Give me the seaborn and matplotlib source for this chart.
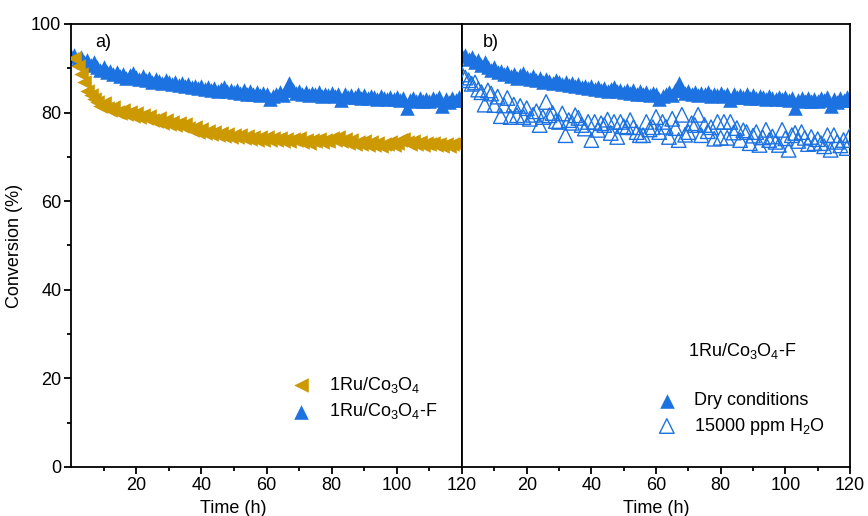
import numpy as np
import pandas as pd
import matplotlib
matplotlib.use('Agg')
import matplotlib.pyplot as plt
from matplotlib.ticker import MultipleLocator, FixedLocator
import seaborn as sns

# Dados (conversão em %, tempo em h)
t_dry = list(range(0, 121))
conv_dry = [92.8, 93.0, 92.1, 92.6, 91.5, 91.9, 90.8, 91.4, 90.2, 89.6,
            90.3, 89.1, 89.4, 88.6, 89.2, 88.3, 88.7, 87.9, 88.4, 88.9,
            88.1, 87.6, 88.3, 87.4, 87.9, 86.8, 87.5, 87.1, 86.6, 87.3,
            86.9, 86.4, 87.0, 86.2, 86.7, 85.9, 86.5, 85.7, 86.1, 85.5,
            86.0, 85.4, 85.8, 85.1, 85.6, 84.9, 85.3, 85.7, 84.8, 85.2,
            84.7, 85.1, 84.5, 85.0, 84.3, 84.8, 84.2, 84.6, 83.9, 84.5,
            84.1, 83.0, 83.8, 84.3, 84.7, 84.0, 85.2, 86.6, 85.0, 84.4,
            84.8, 84.2, 84.6, 83.9, 84.5, 84.1, 84.7, 83.8, 84.3, 84.0,
            84.4, 83.7, 84.2, 82.8, 84.3, 83.5, 84.0, 83.6, 84.1, 83.4,
            83.9, 83.3, 83.8, 83.5, 83.1, 83.7, 83.2, 83.0, 83.6, 83.0,
            83.5, 82.9, 83.4, 81.0, 82.8, 83.3, 82.7, 83.2, 82.6, 83.0,
            82.6, 83.4, 82.9, 83.6, 81.4, 83.1, 82.5, 83.3, 82.8, 83.5,
            82.9]

t_ref = list(range(1, 121))
conv_ref = [92.3, 90.5, 88.6, 86.9, 84.8, 83.9, 83.0, 82.4, 81.6, 82.1,
            81.0, 80.6, 81.3, 80.2, 79.8, 80.5, 79.6, 80.1, 79.3, 79.8,
            79.0, 79.5, 78.7, 79.2, 78.4, 78.0, 78.8, 77.7, 78.3, 77.5,
            77.9, 77.2, 77.7, 76.9, 77.4, 76.6, 76.0, 76.8, 75.6, 76.3,
            75.3, 75.9, 75.1, 75.6, 74.9, 75.4, 74.7, 75.2, 74.5, 75.0,
            74.4, 74.9, 74.2, 74.7, 74.1, 74.6, 73.9, 74.5, 73.8, 74.4,
            73.7, 74.3, 73.9, 74.2, 73.6, 74.1, 73.5, 74.0, 73.7, 74.3,
            73.4, 73.9, 73.2, 73.8, 73.5, 74.1, 73.3, 73.9, 73.6, 74.2,
            73.8, 74.4, 73.5, 74.0, 73.2, 73.7, 72.8, 73.4, 72.9, 73.5,
            72.7, 73.3, 72.6, 73.1, 72.5, 73.0, 72.8, 73.4, 72.6, 73.2,
            73.7, 74.0, 73.4, 73.0, 73.6, 72.9, 73.3, 72.7, 73.1, 72.8,
            73.2, 72.6, 73.0, 72.5, 72.9, 72.4, 72.8, 73.1, 72.6, 72.9]

t_wet = list(range(0, 121))
conv_wet = [88.6, 87.9, 87.3, 86.5, 86.8, 85.2, 84.6, 81.8, 85.0, 84.3,
            81.7, 83.6, 79.2, 81.6, 83.3, 79.0, 81.8, 79.4, 81.5, 79.0,
            81.0, 78.6, 79.5, 80.3, 77.2, 79.0, 82.4, 79.4, 79.9, 78.1,
            77.9, 79.8, 74.9, 78.3, 77.7, 79.4, 78.8, 77.2, 76.4, 77.9,
            73.8, 77.9, 76.1, 77.6, 77.2, 78.4, 75.4, 77.9, 74.5, 77.9,
            76.9, 76.7, 78.3, 76.7, 75.6, 74.9, 74.9, 77.9, 76.2, 76.7,
            79.0, 75.6, 77.9, 76.8, 74.5, 78.6, 76.5, 73.8, 79.5, 75.0,
            75.6, 77.6, 77.2, 79.5, 74.9, 77.2, 75.8, 76.7, 74.1, 77.9,
            74.3, 77.9, 74.3, 77.9, 75.5, 76.5, 73.8, 76.0, 75.6, 73.1,
            74.8, 75.6, 72.7, 74.4, 76.1, 73.8, 74.6, 73.4, 72.7, 76.1,
            74.2, 71.6, 74.9, 75.4, 73.6, 75.6, 74.3, 72.9, 74.5, 73.1,
            74.0, 73.1, 72.4, 74.9, 71.6, 74.9, 73.4, 72.6, 73.8, 72.0,
            74.9]

gold = '#CC9900'
blue = '#1C72E0'

sns.set_style('ticks')
plt.rcParams['font.family'] = ['Liberation Sans', 'DejaVu Sans']
plt.rcParams['mathtext.fontset'] = 'custom'
plt.rcParams['mathtext.rm'] = 'Liberation Sans'
plt.rcParams['mathtext.it'] = 'Liberation Sans'
plt.rcParams['mathtext.default'] = 'regular'
plt.rcParams['font.size'] = 13
plt.rcParams['axes.linewidth'] = 1.3
for k in ['text.color', 'axes.labelcolor', 'xtick.color', 'ytick.color', 'axes.edgecolor']:
    plt.rcParams[k] = 'black'

fig = plt.figure(figsize=(8.68, 5.16), dpi=100)
ax1 = fig.add_axes([0.0818, 0.095, 0.4505, 0.8585])
ax2 = fig.add_axes([0.5323, 0.095, 0.447, 0.8585])

ms = 110
# Painel a)
sns.scatterplot(x=t_dry, y=conv_dry, ax=ax1, marker='^', s=ms, color=blue,
                linewidth=0, label='1Ru/Co$_3$O$_4$-F', zorder=2)
sns.scatterplot(x=t_ref, y=conv_ref, ax=ax1, marker='<', s=ms, color=gold,
                linewidth=0, label='1Ru/Co$_3$O$_4$', zorder=3)
h, l = ax1.get_legend_handles_labels()
ax1.legend(h[::-1], l[::-1], loc='upper left', bbox_to_anchor=(0.52, 0.244),
           frameon=False, handletextpad=0.9, labelspacing=0.35,
           handlelength=1.2, fontsize=13)

# Painel b)
sns.scatterplot(x=t_dry, y=conv_dry, ax=ax2, marker='^', s=ms, color=blue,
                linewidth=0, label='Dry conditions', zorder=2)
sns.scatterplot(x=t_wet, y=conv_wet, ax=ax2, marker='^', s=ms, fc='none',
                ec=blue, linewidth=1.0, label='15000 ppm H$_2$O', zorder=3)
ax2.legend(loc='upper left', bbox_to_anchor=(0.458, 0.205),
           frameon=False, handletextpad=0.9, labelspacing=0.35,
           handlelength=1.2, fontsize=13)
ax2.text(0.582, 0.262, '1Ru/Co$_3$O$_4$-F', transform=ax2.transAxes,
         fontsize=13, va='center', ha='left')

ax1.text(0.061, 0.959, 'a)', transform=ax1.transAxes, fontsize=13, va='center')
ax2.text(0.054, 0.959, 'b)', transform=ax2.transAxes, fontsize=13, va='center')

for ax in (ax1, ax2):
    ax.set_xlim(0, 120)
    ax.set_ylim(0, 100)
    ax.xaxis.set_major_locator(FixedLocator([20, 40, 60, 80, 100, 120]))
    ax.xaxis.set_minor_locator(FixedLocator([10, 30, 50, 70, 90, 110]))
    ax.yaxis.set_major_locator(MultipleLocator(20))
    ax.yaxis.set_minor_locator(MultipleLocator(10))
    ax.tick_params(which='major', direction='out', length=5, width=1.3, labelsize=13, pad=2)
    ax.tick_params(which='minor', direction='out', length=3, width=1.3)
    for sp in ax.spines.values():
        sp.set_visible(True)
        sp.set_linewidth(1.3)
    ax.set_xlabel('Time (h)', fontsize=13)
    ax.grid(False)

ax1.xaxis.set_label_coords(0.414, -0.074)
ax2.xaxis.set_label_coords(0.5, -0.074)
ax1.set_ylabel('Conversion (%)', fontsize=13, labelpad=6)
ax2.tick_params(axis='y', which='both', left=False, labelleft=False)

fig.savefig('out.png', dpi=100)
